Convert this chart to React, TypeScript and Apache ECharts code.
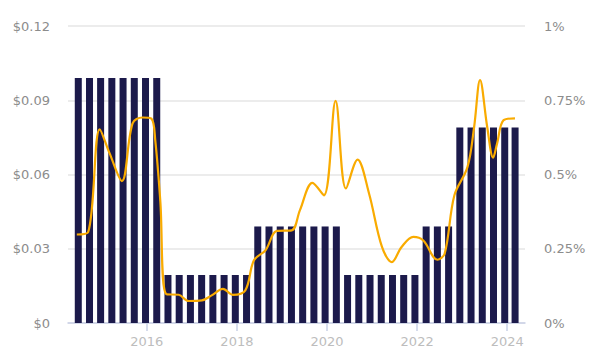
import React, { useEffect, useRef } from "react";
import * as echarts from "echarts";

const payDates = [
  "2014-06-25", "2014-09-24", "2014-12-23", "2015-03-24", "2015-06-23", "2015-09-22", "2015-12-22", "2016-03-22",
  "2016-06-21", "2016-09-20", "2016-12-20", "2017-03-21", "2017-06-20", "2017-09-19", "2017-12-19", "2018-03-20",
  "2018-06-19", "2018-09-18", "2018-12-18", "2019-03-19", "2019-06-18", "2019-09-17", "2019-12-17", "2020-03-17",
  "2020-06-16", "2020-09-15", "2020-12-15", "2021-03-16", "2021-06-15", "2021-09-14", "2021-12-14",
  "2022-03-15", "2022-06-14", "2022-09-13",
  "2022-12-13", "2023-03-14", "2023-06-13", "2023-09-12", "2023-12-12", "2024-03-05",
];
const dividends = [
  0.099, 0.099, 0.099, 0.099, 0.099, 0.099, 0.099, 0.099,
  0.0194, 0.0194, 0.0194, 0.0194, 0.0194, 0.0194, 0.0194, 0.0194,
  0.039, 0.039, 0.039, 0.039, 0.039, 0.039, 0.039, 0.039,
  0.0194, 0.0194, 0.0194, 0.0194, 0.0194, 0.0194, 0.0194,
  0.039, 0.039, 0.039,
  0.079, 0.079, 0.079, 0.079, 0.079, 0.079,
];

const yieldDates = [
  "2014-06-13", "2014-09-13", "2014-12-16", "2015-03-06", "2015-06-13", "2015-09-08", "2015-11-27", "2016-02-08",
  "2016-03-10", "2016-04-20", "2016-06-07", "2016-09-16", "2016-12-05", "2017-03-23", "2017-06-10", "2017-09-10", "2017-11-28",
  "2018-03-10", "2018-05-19", "2018-08-21", "2018-11-21", "2019-03-21", "2019-05-27", "2019-09-05", "2019-12-07",
  "2020-03-11", "2020-06-03", "2020-09-05", "2020-12-07", "2021-03-22", "2021-06-10", "2021-08-28", "2021-12-01",
  "2022-02-20", "2022-06-14", "2022-08-12", "2022-10-30", "2023-02-13", "2023-04-08", "2023-05-26", "2023-07-23",
  "2023-09-09", "2023-10-11", "2023-12-03", "2024-03-04",
];
const yieldPct = [
  0.298, 0.306, 0.652, 0.571, 0.478, 0.672, 0.692, 0.688,
  0.615, 0.41, 0.097, 0.095, 0.074, 0.076, 0.093, 0.115, 0.095,
  0.11, 0.211, 0.245, 0.31, 0.312, 0.38, 0.472, 0.43,
  0.748, 0.453, 0.55, 0.436, 0.256, 0.205, 0.256, 0.29,
  0.278, 0.213, 0.233, 0.43, 0.525, 0.66, 0.818, 0.66,
  0.557, 0.604, 0.683, 0.689,
];

const leftTicks = [0, 0.03, 0.06, 0.09, 0.12];
const rightTicks = [0, 0.25, 0.5, 0.75, 1];
const axisMin = "2014-05-01";
const axisMax = "2024-04-26";

const FONT = "DejaVu Sans";

export default function App() {
  const ref = useRef<HTMLDivElement>(null);
  useEffect(() => {
    if (!ref.current) return;
    const chart = echarts.init(ref.current, undefined, { renderer: "svg" });
    const YEAR = 365.25 * 24 * 3600 * 1000;
    chart.setOption({
      animation: false,
      backgroundColor: "#ffffff",
      grid: { left: 60, right: 69, top: 18, bottom: 32, containLabel: false },
      xAxis: {
        type: "time",
        min: axisMin,
        max: axisMax,
        minInterval: 2 * YEAR,
        maxInterval: 2 * YEAR,
        splitLine: { show: false },
        axisLine: { lineStyle: { color: "#c9d0e6", width: 1.5 } },
        axisTick: { show: true, length: 8, lineStyle: { color: "#c9d0e6", width: 1.5 } },
        axisLabel: {
          color: "#bdbdbd",
          fontFamily: FONT,
          fontSize: 13,
          margin: 12,
          formatter: (v: number) => String(new Date(v).getFullYear()),
          showMinLabel: false,
          showMaxLabel: false,
        },
      },
      yAxis: [
        {
          type: "value",
          min: leftTicks[0],
          max: leftTicks[leftTicks.length - 1],
          interval: 0.03,
          axisLine: { show: false },
          axisTick: { show: false },
          splitLine: { lineStyle: { color: "#e6e6e6", width: 1.5 } },
          axisLabel: {
            color: "#8c8c8c",
            fontFamily: FONT,
            fontSize: 13,
            margin: 18,
            formatter: (v: number) => (v === 0 ? "$0" : "$" + v.toFixed(2)),
          },
        },
        {
          type: "value",
          min: rightTicks[0],
          max: rightTicks[rightTicks.length - 1],
          interval: 0.25,
          axisLine: { show: false },
          axisTick: { show: false },
          splitLine: { show: false },
          axisLabel: {
            color: "#8c8c8c",
            fontFamily: FONT,
            fontSize: 13,
            margin: 19,
            formatter: (v: number) => v + "%",
          },
        },
      ],
      series: [
        {
          type: "bar",
          yAxisIndex: 0,
          barWidth: 7,
          itemStyle: { color: "#1c1a4b" },
          data: payDates.map((d, i) => [d, dividends[i]]),
        },
        {
          type: "line",
          yAxisIndex: 1,
          smooth: 0.35,
          showSymbol: false,
          symbol: "none",
          lineStyle: { color: "#f9ab00", width: 2.2 },
          data: yieldDates.map((d, i) => [d, yieldPct[i]]),
        },
      ],
    });
    return () => chart.dispose();
  }, []);
  return <div ref={ref} style={{ width: 586, height: 347 }} />;
}
